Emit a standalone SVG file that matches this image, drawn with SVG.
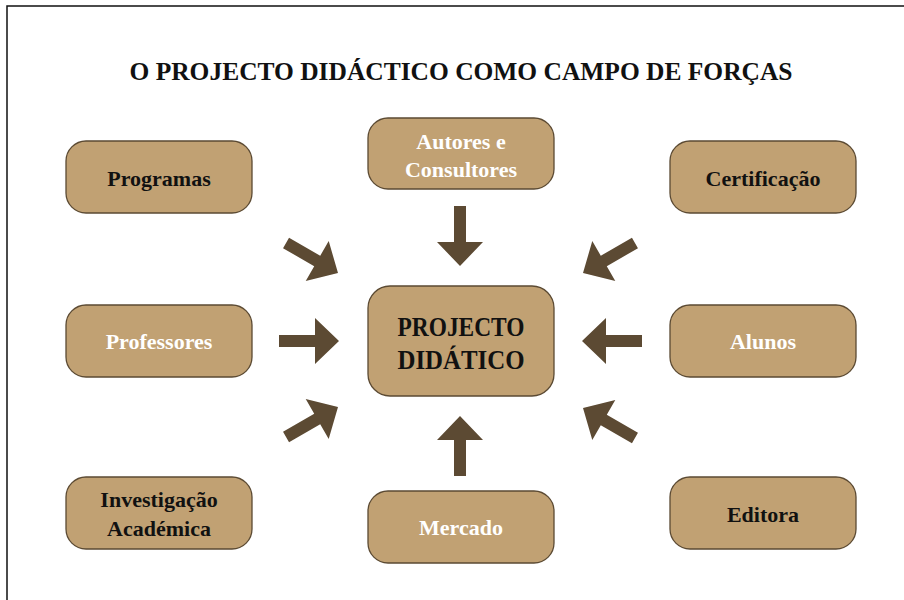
<svg xmlns="http://www.w3.org/2000/svg" width="904" height="600" viewBox="0 0 904 600">
<defs>
<style>
.box{fill:#C1A173;stroke:#5B4A33;stroke-width:1.3}
.t{font-family:"Liberation Serif","Times New Roman",serif;font-weight:bold;font-size:22px;text-anchor:middle}
.dk{fill:#111}
.wt{fill:#fff}
.arr{fill:#5C4A33}
</style>
<polygon id="arrow" points="-60,-6 -24,-6 -24,-23 0,0 -24,23 -24,6 -60,6"/>
</defs>
<rect x="0" y="0" width="904" height="600" fill="#fff"/>
<path d="M7,600 V6 H904" fill="none" stroke="#111" stroke-width="1.5"/>
<text x="461" y="80" class="t dk" style="font-size:25px" textLength="663" lengthAdjust="spacingAndGlyphs">O PROJECTO DIDÁCTICO COMO CAMPO DE FORÇAS</text>

<g id="center">
<rect class="box" x="368" y="286" width="186" height="110" rx="22"/>
<text class="t dk" x="461" y="336" style="font-size:28px" textLength="127" lengthAdjust="spacingAndGlyphs">PROJECTO</text>
<text class="t dk" x="461" y="369" style="font-size:28px" textLength="127" lengthAdjust="spacingAndGlyphs">DIDÁTICO</text>
</g>
<g id="programas">
<rect class="box" x="66" y="141" width="186" height="72" rx="20"/>
<text class="t dk" x="159" y="186">Programas</text>
</g>
<g id="autores">
<rect class="box" x="368" y="118" width="186" height="71" rx="20"/>
<text class="t wt" x="461" y="149">Autores e</text>
<text class="t wt" x="461" y="177">Consultores</text>
</g>
<g id="certificacao">
<rect class="box" x="670" y="141" width="186" height="72" rx="20"/>
<text class="t dk" x="763" y="186">Certificação</text>
</g>
<g id="professores">
<rect class="box" x="66" y="305" width="186" height="72" rx="20"/>
<text class="t wt" x="159" y="349">Professores</text>
</g>
<g id="alunos">
<rect class="box" x="670" y="305" width="186" height="72" rx="20"/>
<text class="t wt" x="763" y="349">Alunos</text>
</g>
<g id="investigacao">
<rect class="box" x="66" y="477" width="186" height="72" rx="20"/>
<text class="t dk" x="159" y="507">Investigação</text>
<text class="t dk" x="159" y="536">Académica</text>
</g>
<g id="mercado">
<rect class="box" x="368" y="491" width="186" height="72" rx="20"/>
<text class="t wt" x="461" y="535">Mercado</text>
</g>
<g id="editora">
<rect class="box" x="670" y="477" width="186" height="72" rx="20"/>
<text class="t dk" x="763" y="522">Editora</text>
</g>

<g id="connectors" class="arr">
<use href="#arrow" transform="translate(460,266) rotate(90)"/>
<use href="#arrow" transform="translate(460,416) rotate(-90)"/>
<use href="#arrow" transform="translate(339,341)"/>
<use href="#arrow" transform="translate(582,341) rotate(180)"/>
<use href="#arrow" transform="translate(338,273) rotate(30)"/>
<use href="#arrow" transform="translate(583,273) rotate(150)"/>
<use href="#arrow" transform="translate(338,407) rotate(-30)"/>
<use href="#arrow" transform="translate(583,408) rotate(210)"/>
</g>
</svg>
